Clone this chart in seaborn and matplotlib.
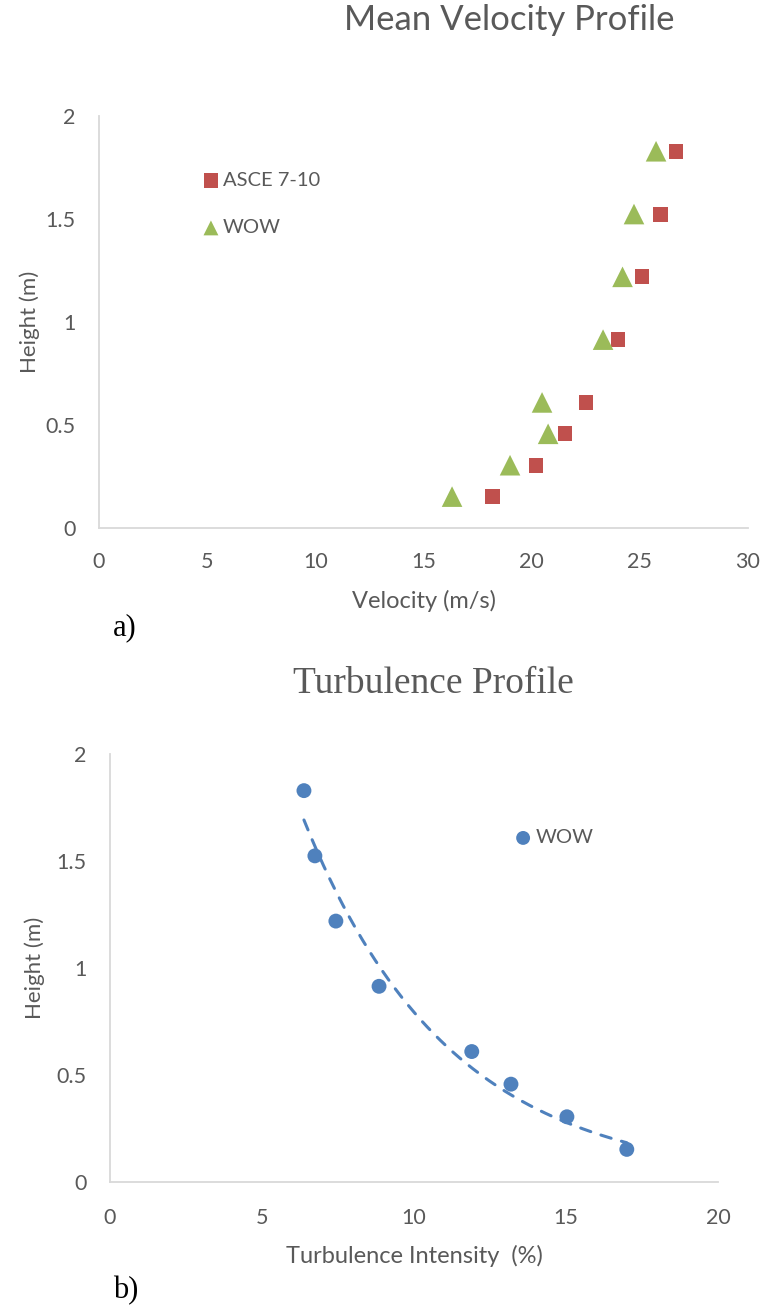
import numpy as np
import pandas as pd
import matplotlib.pyplot as plt
import seaborn as sns

# heights are 0.5..6 ft converted to metres
heights = [0.1524, 0.3048, 0.4572, 0.6096, 0.9144, 1.2192, 1.524, 1.8288]
vel_asce = [18.17, 20.20, 21.54, 22.51, 23.99, 25.10, 25.94, 26.67]
vel_wow = [16.32, 19.00, 20.76, 20.48, 23.30, 24.20, 24.73, 25.75]
ti_wow = [17.0, 15.03, 13.19, 11.90, 8.85, 7.43, 6.74, 6.38]

sns.set_style("white")
plt.rcParams['font.family'] = ['Lato', 'DejaVu Sans']

GREY = '#595959'
SPINE = '#d9d9d9'
RED = '#C0504D'
GREEN = '#9BBB59'
BLUE = '#4F81BD'

fig = plt.figure(figsize=(7.64, 13.08), dpi=100)

# ---- a) mean velocity profile
ax1 = fig.add_axes([99 / 764, 1 - 528 / 1308, 649 / 764, 412 / 1308])
df_a = pd.DataFrame({'vel': vel_asce + vel_wow, 'h': heights * 2,
                     'src': ['ASCE 7-10'] * 8 + ['WOW'] * 8})
sns.scatterplot(data=df_a[df_a.src == 'ASCE 7-10'], x='vel', y='h', marker='s', s=115,
                color=RED, edgecolor='none', label='ASCE 7-10', ax=ax1)
sns.scatterplot(data=df_a[df_a.src == 'WOW'], x='vel', y='h', marker='^', s=220,
                color=GREEN, edgecolor='none', label='WOW', ax=ax1)
ax1.set_xlim(0, 30)
ax1.set_ylim(0, 2)
ax1.set_xticks([0, 5, 10, 15, 20, 25, 30])
ax1.set_yticks([0, 0.5, 1, 1.5, 2])
ax1.set_yticklabels(['0', '0.5', '1', '1.5', '2'])
ax1.set_xlabel('Velocity (m/s)', fontsize=17, color=GREY, labelpad=13)
ax1.set_ylabel('Height (m)', fontsize=16, color=GREY, labelpad=4)
leg1 = ax1.legend(loc='upper left', bbox_to_anchor=(0.143, 0.889), frameon=False,
                  fontsize=14.5, labelcolor=GREY, handletextpad=0.15, handlelength=0.9,
                  labelspacing=1.5, borderpad=0)
leg1.legend_handles[0].set_sizes([110])
leg1.legend_handles[1].set_sizes([115])

# ---- b) turbulence profile
ax2 = fig.add_axes([110 / 764, 1 - 1182 / 1308, 608 / 764, 428 / 1308])
df_b = pd.DataFrame({'ti': ti_wow, 'h': heights})
sns.scatterplot(data=df_b, x='ti', y='h', marker='o', s=115, color=BLUE,
                edgecolor='none', label='WOW', ax=ax2)
# exponential trendline (Excel style: fit ln(h) linearly)
b, a = np.polyfit(df_b.ti, np.log(df_b.h), 1)
xs = np.linspace(df_b.ti.min(), df_b.ti.max(), 200)
sns.lineplot(x=xs, y=np.exp(a) * np.exp(b * xs), color=BLUE, lw=2.2,
             linestyle=(0, (3.5, 3.5)), dash_capstyle='round', ax=ax2, legend=False)
ax2.set_xlim(0, 20)
ax2.set_ylim(0, 2)
ax2.set_xticks([0, 5, 10, 15, 20])
ax2.set_yticks([0, 0.5, 1, 1.5, 2])
ax2.set_yticklabels(['0', '0.5', '1', '1.5', '2'])
ax2.set_xlabel('Turbulence Intensity  (%)', fontsize=17, color=GREY, labelpad=12)
ax2.set_ylabel('Height (m)', fontsize=16, color=GREY, labelpad=8)
leg2 = ax2.legend(loc='upper left', bbox_to_anchor=(0.648, 0.848), frameon=False,
                  fontsize=14.5, labelcolor=GREY, handletextpad=0.15, handlelength=0.9,
                  borderpad=0)
leg2.legend_handles[0].set_sizes([100])

for ax in (ax1, ax2):
    sns.despine(ax=ax)
    for side in ('left', 'bottom'):
        ax.spines[side].set_color(SPINE)
        ax.spines[side].set_linewidth(1.3)
    ax.tick_params(length=0, labelsize=15.5, labelcolor=GREY)
    ax.tick_params(axis='y', pad=17)
ax1.tick_params(axis='x', pad=17)
ax2.tick_params(axis='x', pad=19)

fig.text(509 / 764, 1 - 20 / 1308, 'Mean Velocity Profile', ha='center', va='center',
         fontsize=25, color=GREY)
fig.text(433 / 764, 1 - 684 / 1308, 'Turbulence Profile', ha='center', va='center',
         fontsize=27, color=GREY, family=['Liberation Serif'])
fig.text(113 / 764, 1 - 628 / 1308, 'a)', ha='left', va='center', fontsize=22,
         color='black', family=['Liberation Serif'])
fig.text(113 / 764, 1 - 1291 / 1308, 'b)', ha='left', va='center', fontsize=22,
         color='black', family=['Liberation Serif'])

fig.savefig('out.png', dpi=100)
